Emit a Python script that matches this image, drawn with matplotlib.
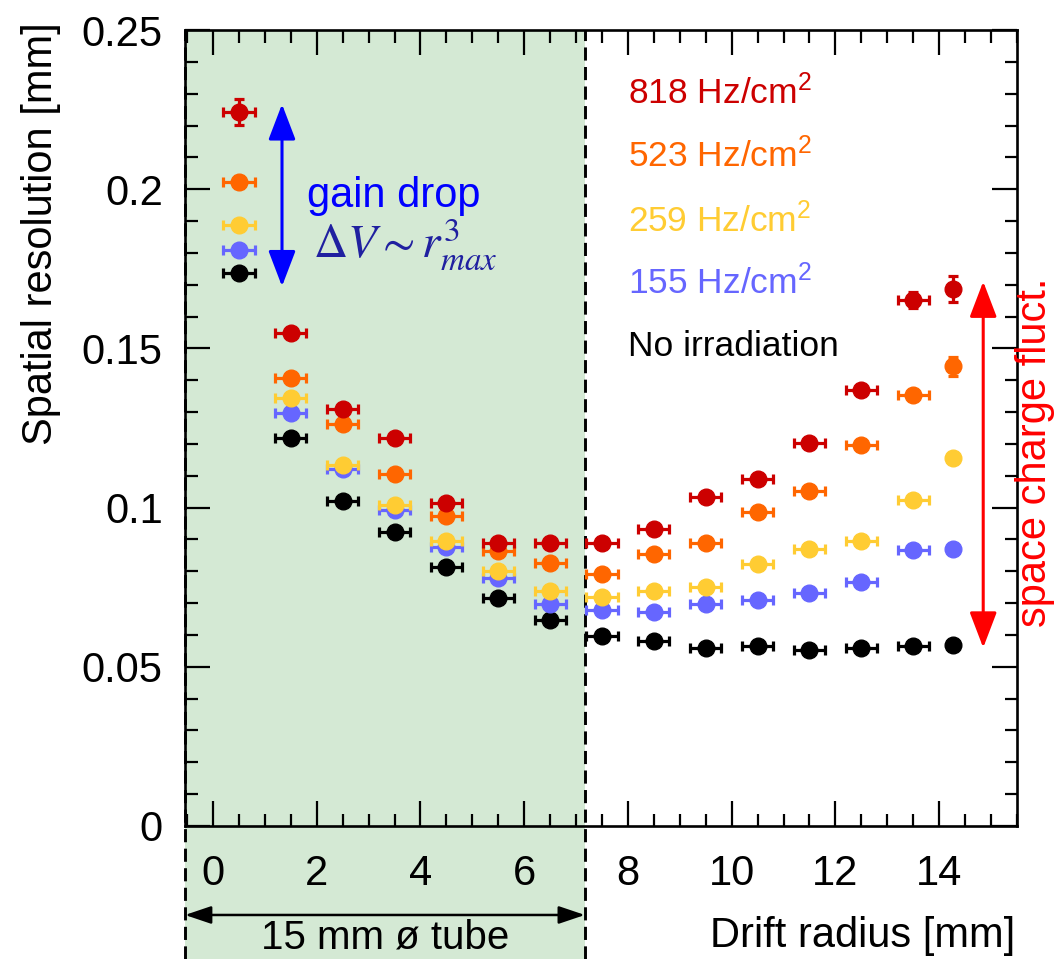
import matplotlib
matplotlib.use("Agg")
import matplotlib.pyplot as plt
from matplotlib.patches import Rectangle
from matplotlib.ticker import MultipleLocator, FormatStrFormatter

plt.rcParams['font.family'] = ['Liberation Sans', 'DejaVu Sans']
plt.rcParams['mathtext.fontset'] = 'custom'
plt.rcParams['mathtext.rm'] = 'Liberation Sans'
plt.rcParams['mathtext.it'] = 'Liberation Sans:italic'

# drift radius bins [mm]
r = [0.5, 1.5, 2.5, 3.5, 4.5, 5.5, 6.5, 7.5, 8.5, 9.5, 10.5, 11.5, 12.5, 13.5, 14.27]
r_err = [0.3] * 14 + [0.1]

# spatial resolution [mm] per irradiation rate
res_818 = [0.2243, 0.1547, 0.1310, 0.1219, 0.1015, 0.0889, 0.0889, 0.0889, 0.0934, 0.1034, 0.1091, 0.1203, 0.1369, 0.1652, 0.1686]
res_523 = [0.2023, 0.1408, 0.1263, 0.1106, 0.0973, 0.0863, 0.0826, 0.0792, 0.0855, 0.0889, 0.0986, 0.1053, 0.1196, 0.1353, 0.1444]
res_259 = [0.1888, 0.1345, 0.1135, 0.1009, 0.0894, 0.0800, 0.0739, 0.0718, 0.0737, 0.0752, 0.0823, 0.0870, 0.0894, 0.1025, 0.1156]
res_155 = [0.1809, 0.1298, 0.1122, 0.0994, 0.0876, 0.0779, 0.0698, 0.0679, 0.0671, 0.0698, 0.0711, 0.0732, 0.0765, 0.0866, 0.0870]
res_0 = [0.1738, 0.1219, 0.1020, 0.0922, 0.0815, 0.0716, 0.0646, 0.0598, 0.0580, 0.0559, 0.0564, 0.0553, 0.0559, 0.0564, 0.0569]

err_818 = [0.004, 0.0015, 0.0012, 0.0012, 0.0012, 0.0012, 0.0012, 0.0012, 0.0012, 0.0012, 0.0012, 0.0015, 0.0015, 0.0025, 0.004]
err_523 = [0.002, 0.0012, 0.0012, 0.0012, 0.0012, 0.0012, 0.0012, 0.0012, 0.0012, 0.0012, 0.0012, 0.0012, 0.0012, 0.0015, 0.003]
err_small = [0.0012] * 15

labels = ['No irradiation', '155 Hz/cm$^{2}$', '259 Hz/cm$^{2}$', '523 Hz/cm$^{2}$', '818 Hz/cm$^{2}$']
series = [res_0, res_155, res_259, res_523, res_818]
errors = [err_small, err_small, err_small, err_523, err_818]
colors = ['black', '#6666ff', '#ffcc33', '#ff6600', '#cc0000']

tube_edge = 7.17
xmin, xmax = -0.54, 15.5

fig = plt.figure(figsize=(10.56, 9.59), dpi=100)
ax = fig.add_axes([0.1752, 0.1387, 0.7878, 0.83])

# shaded tube region, continued below the axis
below = -0.1675
ax.add_patch(Rectangle((xmin, below), tube_edge - xmin, 1 - below, transform=ax.get_xaxis_transform(),
                       facecolor='#d4e9d4', edgecolor='none', clip_on=False, zorder=0))
for xv in [xmin, tube_edge]:
    ax.plot([xv, xv], [below, 1], transform=ax.get_xaxis_transform(), color='black', lw=2.1,
            ls=(0, (4.5, 2.2)), clip_on=False, zorder=1)

for y, e, c in zip(series, errors, colors):
    ax.errorbar(r, y, xerr=r_err, yerr=e, fmt='o', color=c, ms=12, elinewidth=2.3,
                capsize=3.8, capthick=2.3, zorder=3)

ax.set_xlim(xmin, xmax)
ax.set_ylim(0, 0.25)
ax.xaxis.set_major_locator(MultipleLocator(2))
ax.xaxis.set_minor_locator(MultipleLocator(0.5))
ax.yaxis.set_major_locator(MultipleLocator(0.05))
ax.yaxis.set_minor_locator(MultipleLocator(0.01))
ax.yaxis.set_major_formatter(FormatStrFormatter('%g'))
ax.tick_params(which='both', direction='in', top=True, right=True, width=1.6, labelsize=30)
ax.tick_params(which='major', length=18)
ax.tick_params(which='minor', length=9)
ax.tick_params(axis='x', pad=20)
ax.tick_params(axis='y', pad=16)
for s in ax.spines.values():
    s.set_linewidth(1.9)
ax.set_facecolor('none')

fig.text(0.039, 1 - 22 / 959, 'Spatial resolution [mm]', rotation=90, ha='center', va='top', fontsize=30)
fig.text(1015 / 1056, 0.0125, 'Drift radius [mm]', ha='right', va='baseline', fontsize=30)

# legend as coloured text
leg_y = [0.1475, 0.1670, 0.1865, 0.2069, 0.2267]
for lab, c, yy in zip(labels, colors, leg_y):
    ax.text(8.0, yy, lab, color=c, fontsize=25.5, ha='left', va='baseline')

# gain drop annotation
ax.annotate('', xy=(1.33, 0.2267), xytext=(1.33, 0.1695),
            arrowprops=dict(arrowstyle='<|-|>,head_length=1.1,head_width=0.42', color='#0000ff',
                            lw=2.2, shrinkA=0, shrinkB=0, mutation_scale=20))
ax.text(1.81, 0.1943, 'gain drop', color='#0000ff', fontsize=30, ha='left', va='baseline')
ax.text(1.93, 0.1786, r'$\Delta V{\sim}r_{max}^{3}$', color='#2020a0', fontsize=34, ha='left',
        va='baseline', math_fontfamily='stix')

# space charge annotation
ax.annotate('', xy=(14.85, 0.171), xytext=(14.85, 0.056),
            arrowprops=dict(arrowstyle='<|-|>,head_length=1.1,head_width=0.42', color='#ff0000',
                            lw=2.2, shrinkA=0, shrinkB=0, mutation_scale=20))
fig.text(1035 / 1056, (959 - 452) / 959, 'space charge fluct.', rotation=90, ha='center', va='center',
         color='#ff0000', fontsize=30)

# tube diameter arrow
ax.annotate('', xy=(xmin, -0.1118), xytext=(tube_edge, -0.1118), xycoords=ax.get_xaxis_transform(),
            textcoords=ax.get_xaxis_transform(), annotation_clip=False,
            arrowprops=dict(arrowstyle='<|-|>,head_length=0.8,head_width=0.27', color='black',
                            lw=1.8, shrinkA=0, shrinkB=0, mutation_scale=20))
ax.text((xmin + tube_edge) / 2, -0.1545, '15 mm ø tube', transform=ax.get_xaxis_transform(),
        ha='center', va='baseline', fontsize=29, clip_on=False)

fig.savefig('out.png', dpi=100)
